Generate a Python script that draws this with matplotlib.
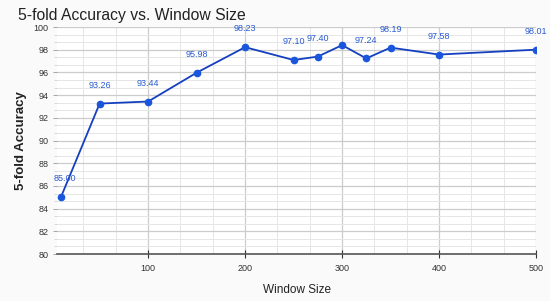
import matplotlib
matplotlib.use('Agg')
import matplotlib.pyplot as plt
from matplotlib.ticker import MultipleLocator

# data
window_size = [10, 50, 100, 150, 200, 250, 275, 300, 325, 350, 400, 500]
accuracy = [85.00, 93.26, 93.44, 95.98, 98.23, 97.10, 97.40, 98.41, 97.24, 98.19, 97.58, 98.01]
labels = ['85.00', '93.26', '93.44', '95.98', '98.23', '97.10', '97.40', '', '97.24', '98.19', '97.58', '98.01']
y_ticks = [80, 82, 84, 86, 88, 90, 92, 94, 96, 98, 100]
x_ticks = [100, 200, 300, 400, 500]

plt.rcParams['font.family'] = ['Liberation Sans', 'DejaVu Sans']

fig = plt.figure(figsize=(5.5, 3.01), dpi=100, facecolor='#fafafa')
ax = fig.add_axes([0.1036, 0.156, 0.871, 0.754])
ax.set_facecolor('white')

ax.plot(window_size, accuracy, color='#1440c0', linewidth=1.3,
        marker='o', markersize=4.5, markerfacecolor='#1a56db', markeredgecolor='#1a56db', zorder=3)

for x, y, t in zip(window_size, accuracy, labels):
    if not t:
        continue
    dx = 3 if x == 10 else 0
    ax.annotate(t, (x, y), xytext=(dx, 10), textcoords='offset points',
                ha='center', va='bottom', fontsize=6.5, color='#2a5bd0')

ax.set_xlim(6, 500)
ax.set_ylim(80, 100)
ax.set_xticks(x_ticks)
ax.set_yticks(y_ticks)
ax.xaxis.set_minor_locator(MultipleLocator(100 / 3))
ax.yaxis.set_minor_locator(MultipleLocator(2 / 3))

ax.grid(True, which='major', color='#cccccc', linewidth=0.9)
ax.grid(True, which='minor', color='#e6e6e6', linewidth=0.7)
ax.set_axisbelow(True)

for s in ['top', 'right', 'left']:
    ax.spines[s].set_visible(False)
ax.spines['bottom'].set_color('#555555')
ax.spines['bottom'].set_linewidth(1.2)

ax.tick_params(axis='x', which='major', direction='inout', length=6, width=0.8,
               color='#333333', labelsize=6.5, labelcolor='#333333', pad=4)
ax.tick_params(axis='x', which='minor', length=0)
ax.tick_params(axis='y', which='major', length=3, width=0.6, color='#999999',
               labelsize=6.5, labelcolor='#333333', pad=3)
ax.tick_params(axis='y', which='minor', length=2, width=0.5, color='#cccccc')

ax.set_xlabel('Window Size', fontsize=8.5, color='#222222', labelpad=8)
ax.set_ylabel('5-fold Accuracy', fontsize=9.5, fontweight='bold', color='#222222', labelpad=5)
fig.text(0.033, 0.948, '5-fold Accuracy vs. Window Size', fontsize=11.3, color='#222222',
         ha='left', va='center')

fig.savefig('out.png', dpi=100, facecolor=fig.get_facecolor())
